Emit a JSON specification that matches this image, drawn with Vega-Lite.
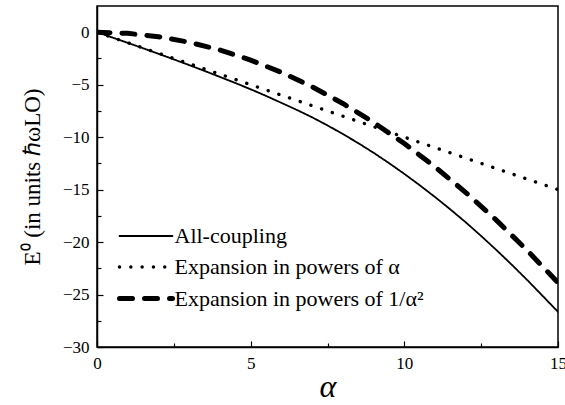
{
  "$schema": "https://vega.github.io/schema/vega-lite/v6.json",
  "width": 461,
  "height": 341,
  "autosize": "none",
  "padding": {"left": 97, "top": 6, "right": 7, "bottom": 58},
  "background": "white",
  "config": {
    "view": {"stroke": "black", "strokeWidth": 1.5},
    "font": "Liberation Serif",
    "axis": {
      "labelFont": "Liberation Serif",
      "titleFont": "Liberation Serif",
      "labelColor": "black",
      "titleColor": "black",
      "domainColor": "black",
      "tickColor": "black",
      "domainWidth": 1.5,
      "tickWidth": 1.2,
      "grid": false,
      "labelFontSize": 17,
      "titleFontWeight": "normal"
    },
    "legend": {"labelFont": "Liberation Serif"}
  },
  "data": {
    "values": [
      {"a": 0, "E": 0, "s": "All-coupling"},
      {"a": 0.5, "E": -0.503, "s": "All-coupling"},
      {"a": 1, "E": -1.013, "s": "All-coupling"},
      {"a": 1.5, "E": -1.53, "s": "All-coupling"},
      {"a": 2, "E": -2.055, "s": "All-coupling"},
      {"a": 2.5, "E": -2.59, "s": "All-coupling"},
      {"a": 3, "E": -3.133, "s": "All-coupling"},
      {"a": 3.5, "E": -3.69, "s": "All-coupling"},
      {"a": 4, "E": -4.26, "s": "All-coupling"},
      {"a": 4.5, "E": -4.84, "s": "All-coupling"},
      {"a": 5, "E": -5.44, "s": "All-coupling"},
      {"a": 5.5, "E": -6.07, "s": "All-coupling"},
      {"a": 6, "E": -6.73, "s": "All-coupling"},
      {"a": 6.5, "E": -7.40, "s": "All-coupling"},
      {"a": 7, "E": -8.11, "s": "All-coupling"},
      {"a": 7.5, "E": -8.88, "s": "All-coupling"},
      {"a": 8, "E": -9.70, "s": "All-coupling"},
      {"a": 8.5, "E": -10.57, "s": "All-coupling"},
      {"a": 9, "E": -11.49, "s": "All-coupling"},
      {"a": 9.5, "E": -12.47, "s": "All-coupling"},
      {"a": 10, "E": -13.50, "s": "All-coupling"},
      {"a": 10.5, "E": -14.58, "s": "All-coupling"},
      {"a": 11, "E": -15.71, "s": "All-coupling"},
      {"a": 11.5, "E": -16.89, "s": "All-coupling"},
      {"a": 12, "E": -18.12, "s": "All-coupling"},
      {"a": 12.5, "E": -19.42, "s": "All-coupling"},
      {"a": 13, "E": -20.77, "s": "All-coupling"},
      {"a": 13.5, "E": -22.17, "s": "All-coupling"},
      {"a": 14, "E": -23.62, "s": "All-coupling"},
      {"a": 14.5, "E": -25.13, "s": "All-coupling"},
      {"a": 15, "E": -26.65, "s": "All-coupling"},
      {"a": 0, "E": 0, "s": "Expansion in powers of α"},
      {"a": 3, "E": -3, "s": "Expansion in powers of α"},
      {"a": 6, "E": -6, "s": "Expansion in powers of α"},
      {"a": 9, "E": -9, "s": "Expansion in powers of α"},
      {"a": 12, "E": -12, "s": "Expansion in powers of α"},
      {"a": 15, "E": -15, "s": "Expansion in powers of α"},
      {"a": 0, "E": 0, "s": "Expansion in powers of 1/α²"},
      {"a": 1, "E": -0.106, "s": "Expansion in powers of 1/α²"},
      {"a": 2, "E": -0.424, "s": "Expansion in powers of 1/α²"},
      {"a": 3, "E": -0.955, "s": "Expansion in powers of 1/α²"},
      {"a": 4, "E": -1.698, "s": "Expansion in powers of 1/α²"},
      {"a": 5, "E": -2.653, "s": "Expansion in powers of 1/α²"},
      {"a": 6, "E": -3.820, "s": "Expansion in powers of 1/α²"},
      {"a": 7, "E": -5.199, "s": "Expansion in powers of 1/α²"},
      {"a": 8, "E": -6.790, "s": "Expansion in powers of 1/α²"},
      {"a": 9, "E": -8.594, "s": "Expansion in powers of 1/α²"},
      {"a": 10, "E": -10.61, "s": "Expansion in powers of 1/α²"},
      {"a": 11, "E": -12.84, "s": "Expansion in powers of 1/α²"},
      {"a": 12, "E": -15.28, "s": "Expansion in powers of 1/α²"},
      {"a": 13, "E": -17.93, "s": "Expansion in powers of 1/α²"},
      {"a": 14, "E": -20.80, "s": "Expansion in powers of 1/α²"},
      {"a": 15, "E": -23.87, "s": "Expansion in powers of 1/α²"}
    ]
  },
  "mark": {"type": "line", "strokeCap": "round", "color": "black", "clip": true},
  "encoding": {
    "x": {
      "field": "a",
      "type": "quantitative",
      "scale": {"domain": [0, 15], "nice": false, "zero": false},
      "axis": {
        "title": "α",
        "titleFontSize": 32,
        "titleFontStyle": "italic",
        "titlePadding": 0,
        "values": [0, 2.5, 5, 7.5, 10, 12.5, 15],
        "labelExpr": "datum.value % 5 === 0 ? datum.label : ''",
        "tickSize": {"condition": {"test": "datum.value % 5 !== 0", "value": -4}, "value": -6},
        "labelPadding": 14,
        "labelFlush": false
      }
    },
    "y": {
      "field": "E",
      "type": "quantitative",
      "scale": {"domain": [-30, 2.5], "nice": false, "zero": false},
      "axis": {
        "title": "E⁰ (in units ℏωLO)",
        "titleFontSize": 23,
        "titlePadding": 18,
        "values": [-30, -27.5, -25, -22.5, -20, -17.5, -15, -12.5, -10, -7.5, -5, -2.5, 0],
        "labelExpr": "datum.value % 5 === 0 ? datum.label : ''",
        "tickSize": {"condition": {"test": "datum.value % 5 !== 0", "value": -4}, "value": -6},
        "labelPadding": 14,
        "labelFlush": false
      }
    },
    "strokeDash": {
      "field": "s",
      "type": "nominal",
      "scale": {
        "domain": ["All-coupling", "Expansion in powers of α", "Expansion in powers of 1/α²"],
        "range": [[1, 0], [0.1, 11.2], [13, 12]]
      },
      "legend": {
        "title": null,
        "orient": "none",
        "legendX": 20,
        "legendY": 219,
        "padding": 0,
        "labelFont": "Liberation Serif",
        "labelFontSize": 22,
        "labelColor": "black",
        "labelOffset": 16,
        "labelLimit": 400,
        "rowPadding": 8,
        "symbolSize": 400,
        "symbolOffset": 16.5,
        "symbolStrokeColor": "black",
        "symbolType": "M-2.65,0H2.65",
        "encode": {"symbols": {"update": {"strokeCap": {"value": "round"}, "fill": {"value": "transparent"}}}}
      }
    },
    "strokeWidth": {
      "field": "s",
      "type": "nominal",
      "scale": {
        "domain": ["All-coupling", "Expansion in powers of α", "Expansion in powers of 1/α²"],
        "range": [1.8, 5, 3.8]
      },
      "legend": null
    }
  }
}
